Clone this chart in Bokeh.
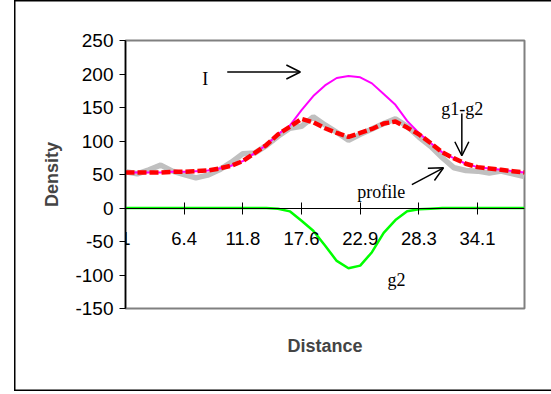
from bokeh.plotting import figure
from bokeh.models import Range1d, LinearAxis, FixedTicker, Label, Arrow, OpenHead
from bokeh.embed import file_html
from bokeh.resources import INLINE

# category index (every 5th category is labelled)
idx = list(range(35))
tick_idx = [0, 5, 10, 15, 20, 25, 30]
tick_labels = ["1", "6.4", "11.8", "17.6", "22.9", "28.3", "34.1"]
y_ticks = [-150, -100, -50, 0, 50, 100, 150, 200, 250]
y_tick_labels = ["-150", "-100", "-50", "0", "50", "100", "150", "200", "250"]

profile = [54, 51, 57, 64, 55, 50, 45, 49, 57, 68, 81, 82, 93, 107, 119, 122, 136, 124, 113, 101,
           110, 118, 126, 133, 122, 106, 92, 75, 60, 56, 55, 52, 55, 51, 47]
I_vals = [53, 53, 53, 53, 54, 54, 55, 56, 59, 63, 70, 82, 94, 110, 123, 146, 167, 183, 194, 197,
          195, 186, 170, 154, 130, 112, 97, 83, 74, 66, 61, 59, 57, 55, 53]
g1g2 = [53, 53, 53, 53, 54, 54, 55, 56, 59, 63, 70, 82, 94, 110, 121, 133, 128, 119, 112, 106,
        112, 118, 126, 129, 120, 110, 97, 83, 74, 66, 61, 59, 57, 55, 53]
g2 = [0, 0, 0, 0, 0, 0, 0, 0, 0, 0, 0, 0, 0, -1, -5, -19, -34, -56, -79, -90,
      -86, -66, -37, -18, -5, -2, -1, 0, 0, 0, 0, 0, 0, 0, 0]

p = figure(width=537, height=391, output_backend="svg", toolbar_location=None,
           x_range=Range1d(0, 34), y_range=Range1d(-150, 250),
           min_border_left=111, min_border_right=27, min_border_top=40, min_border_bottom=83,
           title=None)
p.styles = {"margin-left": "14px",
            "box-shadow": "inset 1.5px 0 0 0 black, inset 0 1.5px 0 0 black, inset 0 -1.5px 0 0 black"}
p.xgrid.visible = False
p.ygrid.visible = False
p.background_fill_color = "white"
p.border_fill_color = None
p.outline_line_color = "#808080"
p.outline_line_width = 2

# y axis
ya = p.yaxis[0]
ya.ticker = FixedTicker(ticks=y_ticks)
ya.major_label_overrides = {t: l for t, l in zip(y_ticks, y_tick_labels)}
ya.major_tick_out = 6
ya.major_tick_in = 0
ya.minor_tick_out = 0
ya.minor_tick_in = 0
ya.axis_line_color = "black"
ya.axis_line_width = 1.5
ya.major_tick_line_color = "black"
ya.major_label_text_font = "Liberation Sans"
ya.major_label_text_font_size = "19px"
ya.major_label_text_color = "black"
ya.major_label_standoff = 6
ya.axis_label = "Density"
ya.axis_label_text_font = "Liberation Sans"
ya.axis_label_text_font_size = "18px"
ya.axis_label_text_font_style = "bold"
ya.axis_label_standoff = 10

# bottom axis used only for the title
xb = p.xaxis[0]
xb.ticker = FixedTicker(ticks=[])
xb.axis_line_color = None
xb.major_tick_line_color = None
xb.minor_tick_line_color = None
xb.major_label_text_font_size = "0px"
xb.axis_label = "Distance"
xb.axis_label_text_font = "Liberation Sans"
xb.axis_label_text_font_size = "18px"
xb.axis_label_text_font_style = "bold"
xb.axis_label_standoff = 27

# category axis crossing at zero
xa = LinearAxis(fixed_location=0, ticker=FixedTicker(ticks=tick_idx),
                major_label_overrides={t: l for t, l in zip(tick_idx, tick_labels)})
xa.major_tick_in = 6
xa.major_tick_out = 6
xa.minor_tick_in = 0
xa.minor_tick_out = 0
xa.axis_line_color = "black"
xa.axis_line_width = 1
xa.major_tick_line_color = "black"
xa.major_label_text_font = "Liberation Sans"
xa.major_label_text_font_size = "18.5px"
xa.major_label_text_color = "black"
xa.major_label_standoff = 18
p.add_layout(xa, "below")

p.line(idx, profile, line_color="#c0c0c0", line_width=5.5)
p.line(idx, I_vals, line_color="#ff00ff", line_width=2)
p.line(idx, g1g2, line_color="#ff0000", line_width=4.5, line_dash="9 3")
p.line(idx, g2, line_color="#00ff00", line_width=2.5)

serif = "Liberation Serif"
for x, y, t in [(6.8, 193, "I"), (28.7, 148, "g1-g2"), (21.8, 24, "profile"), (23.1, -107, "g2")]:
    p.add_layout(Label(x=x, y=y, text=t, text_align="center", text_baseline="middle",
                       text_font=serif, text_font_size="18px", text_color="black"))

for xs, ys, xe, ye in [(8.67, 203, 14.9, 203), (28.66, 141, 28.66, 78), (24.4, 35, 27.1, 60)]:
    p.add_layout(Arrow(x_start=xs, y_start=ys, x_end=xe, y_end=ye, line_width=1.5,
                       end=OpenHead(size=14, line_width=1.5)))

open("out.html", "w").write(file_html(p, INLINE))
